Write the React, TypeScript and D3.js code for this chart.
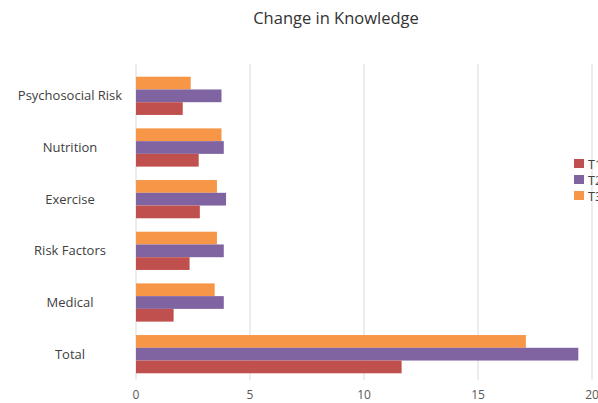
import React, { useEffect, useRef } from 'react'
import * as d3 from 'd3'

// categories top to bottom
const categories = ['Psychosocial Risk', 'Nutrition', 'Exercise', 'Risk Factors', 'Medical', 'Total']
const seriesNames = ['T3', 'T2', 'T1'] // drawn top to bottom inside each group
const t1 = [2.05, 2.75, 2.8, 2.35, 1.65, 11.65]
const t2 = [3.75, 3.85, 3.95, 3.85, 3.85, 19.4]
const t3 = [2.4, 3.75, 3.55, 3.55, 3.45, 17.1]
const xTicks = [0, 5, 10, 15, 20]
const legendNames = ['T1', 'T2', 'T3']

const colors: Record<string, string> = {
  T1: '#c0504d',
  T2: '#8064a2',
  T3: '#f79646',
}

const App = () => {
  const ref = useRef<SVGSVGElement>(null)

  useEffect(() => {
    const svg = d3.select(ref.current)
    svg.selectAll('*').remove()

    const font = 'Open Sans, sans-serif'
    const margin = { top: 70, left: 136, right: 6, bottom: 23 }
    const width = 598
    const height = 403

    const x = d3.scaleLinear()
      .domain([0, 20])
      .range([margin.left, width - margin.right])

    const y = d3.scaleBand<string>()
      .domain(categories)
      .range([margin.top, height - margin.bottom])
      .paddingInner(0.26)
      .paddingOuter(0.13)

    const inner = d3.scaleBand<string>()
      .domain(seriesNames)
      .range([0, y.bandwidth()])

    const values: Record<string, number[]> = { T1: t1, T2: t2, T3: t3 }

    svg.append('text')
      .attr('x', 336)
      .attr('y', 24)
      .attr('text-anchor', 'middle')
      .attr('font-family', font)
      .attr('font-size', 16.5)
      .attr('fill', '#333')
      .text('Change in Knowledge')

    // gridlines
    svg.append('g')
      .selectAll('line')
      .data(xTicks)
      .enter().append('line')
      .attr('x1', d => x(d))
      .attr('x2', d => x(d))
      .attr('y1', margin.top - 6)
      .attr('y2', height - margin.bottom)
      .attr('stroke', '#d9d9d9')
      .attr('stroke-width', 1)

    svg.append('g')
      .selectAll('text')
      .data(xTicks)
      .enter().append('text')
      .attr('x', d => x(d))
      .attr('y', 399)
      .attr('text-anchor', 'middle')
      .attr('font-family', font)
      .attr('font-size', 12)
      .attr('fill', '#595959')
      .text(d => d)

    const groups = svg.append('g')
      .selectAll('g')
      .data(categories)
      .enter().append('g')
      .attr('transform', d => `translate(0,${y(d)})`)

    groups.selectAll('rect')
      .data((d, i) => seriesNames.map(s => ({ s, v: values[s][i] })))
      .enter().append('rect')
      .attr('x', x(0))
      .attr('y', d => inner(d.s) as number)
      .attr('width', d => x(d.v) - x(0))
      .attr('height', inner.bandwidth())
      .attr('fill', d => colors[d.s])

    svg.append('g')
      .selectAll('text')
      .data(categories)
      .enter().append('text')
      .attr('x', 70)
      .attr('y', d => (y(d) as number) + y.bandwidth() / 2 + 4.5)
      .attr('text-anchor', 'middle')
      .attr('font-family', font)
      .attr('font-size', 13)
      .attr('fill', '#404040')
      .text(d => d)

    const legend = svg.append('g')
      .selectAll('g')
      .data(legendNames)
      .enter().append('g')
      .attr('transform', (d, i) => `translate(574,${159 + i * 16})`)

    legend.append('rect')
      .attr('width', 10)
      .attr('height', 9)
      .attr('fill', d => colors[d])

    legend.append('text')
      .attr('x', 14)
      .attr('y', 9.5)
      .attr('font-family', font)
      .attr('font-size', 12.5)
      .attr('fill', '#404040')
      .text(d => d)
  }, [])

  return (
    <svg
      ref={ref}
      width={598}
      height={403}
      style={{ position: 'absolute', left: 0, top: 0, background: '#fff' }}
    />
  )
}

export default App
